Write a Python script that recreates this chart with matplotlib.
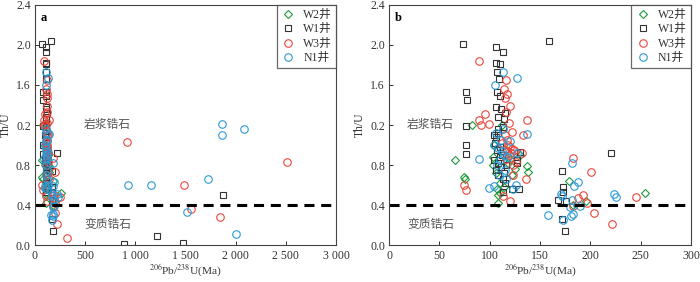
import matplotlib
matplotlib.use("Agg")
import matplotlib.pyplot as plt
import numpy as np

plt.rcParams['font.family'] = ['Liberation Serif', 'Noto Sans CJK SC']
plt.rcParams['axes.unicode_minus'] = False
plt.rcParams['mathtext.fontset'] = 'stix'

# ---- data (age in Ma, Th/U) ----
w2_age = [65.4, 74.7, 75.3, 82.3, 136.7, 137.7, 108.2, 103.5, 103, 110.2, 108.5, 125,
          112, 106, 110, 118, 120, 130, 114, 107, 122, 116, 104,
          178.5, 254.8, 195.5, 183]
w2_thu = [0.85, 0.68, 0.66, 1.20, 0.79, 0.73, 0.42, 0.88, 0.80, 0.52, 0.50, 0.76,
          1.20, 0.72, 0.62, 0.82, 0.86, 0.90, 0.58, 0.56, 0.70, 0.95, 1.00,
          0.64, 0.52, 0.44, 0.40]

w1_age = [73.7, 105.9, 113, 105.9, 110.5, 107.2, 109.2, 107.5, 109.9, 76.3, 77.7, 105.9,
          111.2, 115.5, 108.5, 114.2, 76, 113.2, 107.9, 76.7, 76, 158.6, 220.4,
          130, 126.8, 126.8, 129.4, 121.8, 112.8, 115.5,
          104, 106, 108, 105, 110, 107, 112, 104, 108, 111, 106, 114, 108, 113, 110, 116,
          172, 172.6, 173, 168.2, 175.5, 171.6, 174.9,
          1874, 1219, 887, 1479]
w1_thu = [2.01, 1.98, 1.93, 1.82, 1.81, 1.73, 1.66, 1.53, 1.49, 1.53, 1.45, 1.38,
          1.36, 1.32, 1.28, 1.26, 1.19, 1.18, 1.16, 1.00, 0.91, 2.04, 0.92,
          0.93, 0.85, 0.82, 0.56, 0.56, 0.53, 0.62,
          1.10, 1.08, 1.12, 1.02, 0.98, 0.95, 0.90, 0.85, 0.82, 0.78, 0.75, 0.72, 0.70, 0.66, 0.88, 0.80,
          0.74, 0.58, 0.53, 0.45, 0.44, 0.26, 0.14,
          0.50, 0.09, 0.017, 0.026]

w3_age = [89.6, 115.8, 114.5, 117.5, 115.5, 119.8, 115.8, 94.9, 89.3, 90.9, 99.6, 136.7,
          121.8, 119.5, 133.1, 115.5, 116.8, 118, 120, 122, 117, 121, 124, 119, 131.8,
          122.8, 122.8, 135.7, 74.7, 76.3, 113.5, 120.1, 116, 112, 126,
          183.2, 200.4, 193.1, 188.2, 196.4, 183.2, 204, 222, 245.2,
          920, 1486, 1555, 1848, 2509, 322]
w3_thu = [1.84, 1.65, 1.56, 1.51, 1.47, 1.39, 1.33, 1.31, 1.25, 1.20, 1.21, 1.25,
          1.13, 1.22, 1.10, 1.10, 1.05, 1.00, 0.98, 0.96, 0.94, 0.92, 0.95, 0.90, 0.92,
          0.80, 0.70, 0.66, 0.60, 0.55, 0.49, 0.44, 0.86, 1.02, 0.83,
          0.87, 0.73, 0.50, 0.47, 0.42, 0.39, 0.32, 0.21, 0.48,
          1.03, 0.60, 0.36, 0.28, 0.83, 0.07]

n1_age = [113.5, 105.2, 126.8, 137, 112.8, 89.6, 99.2, 104.6, 123.5, 126.1,
          104, 108, 112, 114, 110, 126.8, 118, 107, 115, 111, 120, 109, 116, 106,
          181.8, 187.5, 184.2, 170.6, 182.2, 223.6, 225.6, 158.3, 173.2, 180.9, 183,
          189.8, 179.8, 172,
          924, 1153, 1722, 1864, 1861, 2087, 1512, 2007]
n1_thu = [1.73, 1.60, 1.67, 1.11, 1.16, 0.86, 0.57, 0.59, 0.56, 0.60,
          1.00, 0.97, 0.94, 0.90, 0.85, 0.92, 0.88, 0.80, 0.75, 1.05, 1.04, 0.70, 0.66, 1.12,
          0.82, 0.63, 0.59, 0.51, 0.45, 0.51, 0.48, 0.30, 0.25, 0.29, 0.31,
          0.39, 0.38, 0.49,
          0.60, 0.60, 0.66, 1.21, 1.10, 1.16, 0.33, 0.115]

yticks = [0.0, 0.4, 0.8, 1.2, 1.6, 2.0, 2.4]
ytick_labels = ['0.0', '0.4', '0.8', '0.2', '1.6', '2.0', '2.4']

series = [
    ('W2井', w2_age, w2_thu, 'D', '#1e9a3c', 4.2),
    ('W1井', w1_age, w1_thu, 's', '#333333', 4.8),
    ('W3井', w3_age, w3_thu, 'o', '#e8473b', 5.4),
    ('N1井', n1_age, n1_thu, 'o', '#2b9ad6', 5.4),
]

fig = plt.figure(figsize=(7.0, 2.82), dpi=100)
ax_a = fig.add_axes([0.05, 0.13, 0.43, 0.853])
ax_b = fig.add_axes([0.556, 0.13, 0.431, 0.853])

panels = [
    (ax_a, 'a', 3000, [0, 500, 1000, 1500, 2000, 2500, 3000],
     ['0', '500', '1 000', '1 500', '2 000', '2 500', '3 000'], 723, 90),
    (ax_b, 'b', 300, [0, 50, 100, 150, 200, 250, 300],
     ['0', '50', '100', '150', '200', '250', '300'], 41, 9),
]

for ax, tag, xmax, xt, xtl, text_x, tag_x in panels:
    for name, age, thu, mk, col, ms in series:
        ax.plot(age, thu, linestyle='none', marker=mk, markersize=ms,
                markerfacecolor='none', markeredgecolor=col, markeredgewidth=0.8,
                label=name)
    ax.axhline(0.4, color='black', linewidth=2.2, dashes=(3.3, 2.2))
    ax.set_xlim(0, xmax)
    ax.set_ylim(0, 2.4)
    ax.set_xticks(xt)
    ax.set_xticklabels(xtl)
    ax.set_yticks(yticks)
    ax.set_yticklabels(ytick_labels)
    ax.tick_params(direction='in', length=3, width=0.7, labelsize=8.5,
                   colors='#333333', pad=3)
    for sp in ax.spines.values():
        sp.set_color('#444444')
        sp.set_linewidth(0.8)
    ax.set_ylabel('Th/U', fontsize=8.5, color='#333333', labelpad=3)
    ax.text(0.5, -0.108, '$^{206}$Pb/$^{238}$U(Ma)', transform=ax.transAxes,
            fontsize=8.2, color='#333333', ha='center', va='center')
    ax.text(tag_x, 2.27, tag, fontsize=9, fontweight='bold', ha='center', va='center')
    ax.text(text_x, 1.21, '岩浆锆石', fontsize=8.5, color='#555555', ha='center',
            va='center', family='Noto Sans CJK SC')
    ax.text(text_x, 0.21, '变质锆石', fontsize=8.5, color='#555555', ha='center',
            va='center', family='Noto Sans CJK SC')
    leg = ax.legend(loc='upper right', borderaxespad=0, frameon=True,
                    fancybox=False, edgecolor='#444444', handletextpad=0.7,
                    handlelength=1.2, labelspacing=0.2, borderpad=0.35,
                    prop={'family': ['Liberation Serif', 'Noto Sans CJK SC'], 'size': 8.5})
    leg.get_frame().set_linewidth(0.9)
    for t in leg.get_texts():
        t.set_color('#333333')

fig.savefig('out.png', dpi=100)
